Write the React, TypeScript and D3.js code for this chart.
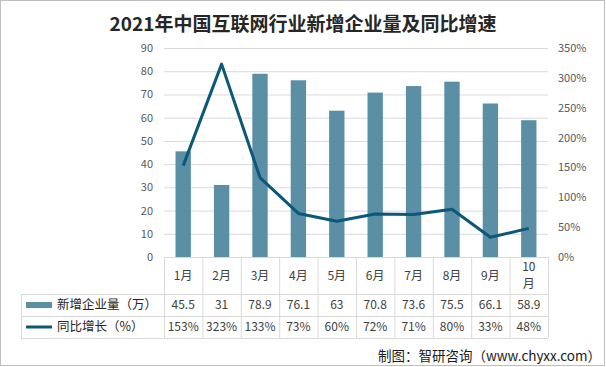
import * as d3 from 'd3'

const months = ['1月', '2月', '3月', '4月', '5月', '6月', '7月', '8月', '9月', '10月']
const newFirms = [45.5, 31, 78.9, 76.1, 63, 70.8, 73.6, 75.5, 66.1, 58.9]
const growth = [153, 323, 133, 73, 60, 72, 71, 80, 33, 48]
const newFirmLabels = ['45.5', '31', '78.9', '76.1', '63', '70.8', '73.6', '75.5', '66.1', '58.9']
const growthLabels = ['153%', '323%', '133%', '73%', '60%', '72%', '71%', '80%', '33%', '48%']
const leftTicks = [0, 10, 20, 30, 40, 50, 60, 70, 80, 90]
const rightTicks = [0, 50, 100, 150, 200, 250, 300, 350]

const W = 606
const H = 367
const left = 164
const right = 548
const top = 48
const bottom = 257
const tableLeft = 21
const row1 = 294
const row2 = 316
const row3 = 338

const barColor = '#5b8fa5'
const lineColor = '#0b5878'
const gridColor = '#d9d9d9'
const axisText = '#595959'
const font = '"Microsoft YaHei", "Noto Sans CJK SC", sans-serif'

export default function App() {
  const x = d3.scaleBand<string>().domain(months).range([left, right]).paddingInner(0.6).paddingOuter(0.3)
  const xCell = d3.scaleBand<string>().domain(months).range([left, right])
  const yL = d3.scaleLinear().domain([0, 90]).range([bottom, top])
  const yR = d3.scaleLinear().domain([0, 350]).range([bottom, top])

  const line = d3
    .line<number>()
    .x((_, i) => xCell(months[i])! + xCell.bandwidth() / 2)
    .y((d) => yR(d))

  const cellEdges = months.map((m) => xCell(m)!).concat([right])

  return (
    <svg width={W} height={H} style={{ position: 'absolute', left: 0, top: 0, fontFamily: font }}>
      <rect x={0} y={0} width={W} height={H} fill="#fff" />
      <rect x={0.5} y={0.5} width={W - 2} height={H - 2} fill="none" stroke="#bfbfbf" />

      <text x={W / 2} y={31} textAnchor="middle" fontSize={19} fontWeight="bold" fill="#262626">
        2021年中国互联网行业新增企业量及同比增速
      </text>

      {leftTicks.map((t) => (
        <g key={'g' + t}>
          {t > 0 && (
            <line x1={left} x2={right} y1={yL(t) + 0.5} y2={yL(t) + 0.5} stroke={gridColor} />
          )}
          <text x={153} y={yL(t) + 4} textAnchor="end" fontSize={11} fill={axisText}>
            {t}
          </text>
        </g>
      ))}
      {rightTicks.map((t) => (
        <text key={'r' + t} x={558} y={yR(t) + 4} fontSize={11} fill={axisText}>
          {t}%
        </text>
      ))}

      {newFirms.map((v, i) => (
        <rect
          key={'b' + i}
          x={x(months[i])}
          y={yL(v)}
          width={x.bandwidth()}
          height={bottom - yL(v)}
          fill={barColor}
        />
      ))}

      <path d={line(growth) ?? ''} fill="none" stroke={lineColor} strokeWidth={3} strokeLinejoin="round" />

      {/* table grid */}
      <line x1={left} x2={right} y1={bottom + 0.5} y2={bottom + 0.5} stroke={gridColor} />
      {cellEdges.map((e, i) => (
        <line key={'v' + i} x1={e + 0.5} x2={e + 0.5} y1={bottom} y2={row3} stroke={gridColor} />
      ))}
      <line x1={tableLeft + 0.5} x2={tableLeft + 0.5} y1={row1} y2={row3} stroke={gridColor} />
      {[row1, row2, row3].map((r) => (
        <line key={'h' + r} x1={tableLeft} x2={right} y1={r + 0.5} y2={r + 0.5} stroke={gridColor} />
      ))}

      {months.map((m) => {
        const cx = xCell(m)! + xCell.bandwidth() / 2
        if (m.length > 2) {
          return (
            <text key={m} textAnchor="middle" fontSize={12} fill="#404040">
              <tspan x={cx} y={271}>{m.slice(0, 2)}</tspan>
              <tspan x={cx} y={288}>{m.slice(2)}</tspan>
            </text>
          )
        }
        return (
          <text key={m} x={cx} y={280} textAnchor="middle" fontSize={12} fill="#404040">
            {m}
          </text>
        )
      })}

      <rect x={26} y={302} width={26} height={6} fill={barColor} />
      <text x={57} y={309} fontSize={12.5} fill="#262626">新增企业量（万）</text>
      <line x1={26} x2={52} y1={327} y2={327} stroke={lineColor} strokeWidth={3} />
      <text x={57} y={331} fontSize={12.5} fill="#262626">同比增长（%）</text>

      {months.map((m, i) => {
        const cx = xCell(m)! + xCell.bandwidth() / 2
        return (
          <g key={'t' + m}>
            <text x={cx} y={309} textAnchor="middle" fontSize={12} fill="#404040">
              {newFirmLabels[i]}
            </text>
            <text x={cx} y={331} textAnchor="middle" fontSize={12} fill="#404040">
              {growthLabels[i]}
            </text>
          </g>
        )
      })}

      <text x={601} y={361} textAnchor="end" fontSize={13.5} fill="#1a1a1a">
        制图：智研咨询（www.chyxx.com）
      </text>
    </svg>
  )
}
